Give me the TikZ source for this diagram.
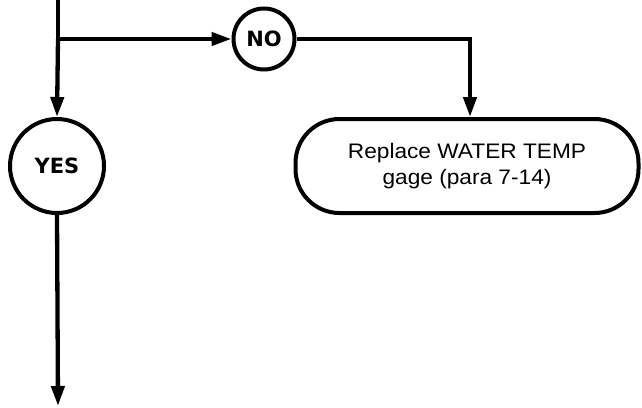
\documentclass[tikz,border=0pt]{standalone}
\usepackage{fontspec}
\setmainfont{Liberation Sans}
\newfontfamily\boxfont[FakeStretch=1.08]{Liberation Sans}
\newfontfamily\labfont{DejaVu Sans}
\usetikzlibrary{arrows.meta}
\tikzset{
  conn/.style={line width=4.3pt, -{Triangle[length=20pt,width=13pt]}},
  plain/.style={line width=4.3pt},
  decision/.style={circle, draw, line width=4pt, inner sep=0pt, font=\labfont\bfseries\fontsize{21}{24}\selectfont},
  action/.style={draw, line width=4pt, rounded corners=44pt, minimum width=343pt, minimum height=94pt, align=center, font=\boxfont\fontsize{21}{26}\selectfont}
}
\begin{document}
\begin{tikzpicture}[x=1pt,y=-1pt]
\useasboundingbox (0,0) rectangle (642,407);
\coordinate (top) at (58,0);
\coordinate (split) at (58,39);
\coordinate (corner) at (470,39);
\coordinate (bot) at (58,406);
\node[decision, minimum size=94pt] (yes) at (57,166) {YES};
\node[decision, minimum size=61pt] (no) at (264,39) {NO};
\node[action] (box) at (467,166) {Replace WATER TEMP\\gage (para 7-14)};
\draw[plain] (top) -- (split);
\draw[conn] (split) -- (yes.north);
\draw[conn] (split) -- (no.west);
\draw[conn] (no.east) -- (corner) -- (box.north -| corner);
\draw[conn] (yes.south) -- (bot);
\end{tikzpicture}
\end{document}
